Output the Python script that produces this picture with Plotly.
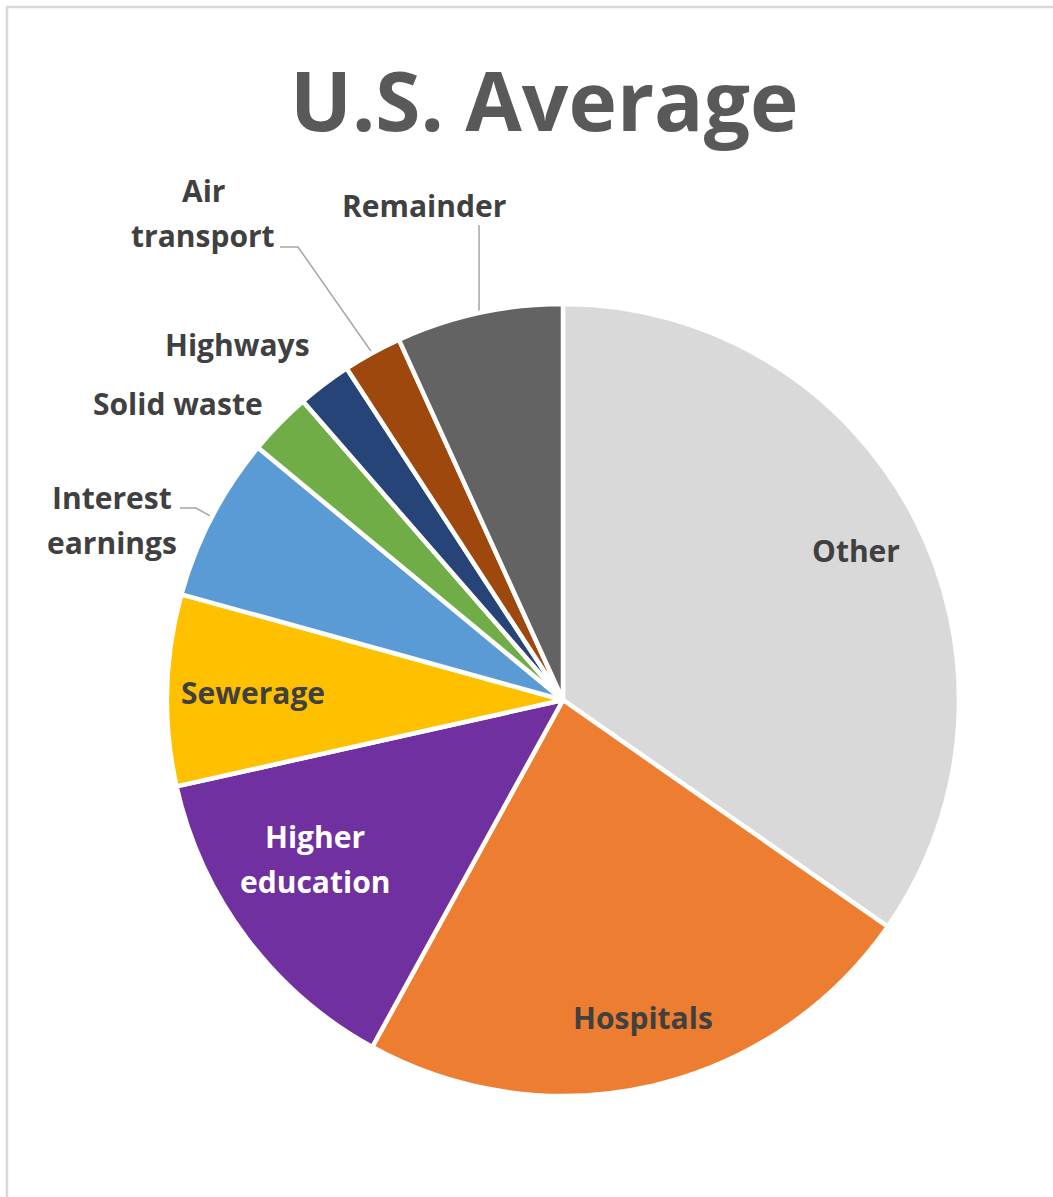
import math
import plotly.graph_objects as go

# Spending shares (percent of total), clockwise from 12 o'clock
categories = ["Other", "Hospitals", "Higher education", "Sewerage",
              "Interest earnings", "Solid waste", "Highways",
              "Air transport", "Remainder"]
shares = [34.7, 23.3, 13.5, 7.8, 6.7, 2.6, 2.2, 2.4, 6.8]
label_lines = [["Other"], ["Hospitals"], ["Higher", "education"], ["Sewerage"],
               ["Interest", "earnings"], ["Solid waste"], ["Highways"],
               ["Air", "transport"], ["Remainder"]]

colors = ["#D9D9D9", "#ED7D31", "#7030A0", "#FFC000", "#5B9BD5",
          "#70AD47", "#264478", "#9E480E", "#636363"]
text_colors = ["#404040", "#404040", "#FFFFFF", "#404040", "#404040",
               "#404040", "#404040", "#404040", "#404040"]

W, H = 1053, 1197
CX, CY, R = 563, 700, 396
FONT = "Open Sans"
LINE_GAP = 45

# Label centre (pixels) for each category's first line
label_pos = {
    "Other": (856, 550),
    "Hospitals": (643, 1017),
    "Higher education": (315, 836),
    "Sewerage": (253, 692),
    "Interest earnings": (112, 497),
    "Solid waste": (178, 403),
    "Highways": (237, 344),
    "Air transport": (203, 190),
    "Remainder": (424, 205),
}

# Leader-line starting points (pixels) for labels placed outside the pie
leader_start = {
    "Interest earnings": [(180, 508), (196, 508)],
    "Air transport": [(280, 247), (298, 247)],
    "Remainder": None,  # vertical drop from under the label
}

# Mid-angle of every slice, degrees clockwise from 12 o'clock
total = sum(shares)
mid_angle = {}
acc = 0.0
for name, v in zip(categories, shares):
    a0 = acc / total * 360
    acc += v
    a1 = acc / total * 360
    mid_angle[name] = (a0 + a1) / 2


def edge_point(name, extra=0):
    a = math.radians(mid_angle[name])
    return CX + (R + extra) * math.sin(a), CY - (R + extra) * math.cos(a)


fig = go.Figure()

fig.add_trace(go.Pie(
    labels=categories,
    values=shares,
    sort=False,
    direction="clockwise",
    rotation=0,
    marker=dict(colors=colors, line=dict(color="white", width=4.5)),
    textinfo="none",
    hoverinfo="label+percent",
    showlegend=False,
    domain=dict(x=[(CX - R) / W, (CX + R) / W],
                y=[1 - (CY + R) / H, 1 - (CY - R) / H]),
))

# Leader lines for outside labels
for name, start in leader_start.items():
    ex, ey = edge_point(name)
    if start is None:
        xs, ys = [ex, ex], [225, ey]
    else:
        xs = [p[0] for p in start] + [ex]
        ys = [p[1] for p in start] + [ey]
    fig.add_trace(go.Scatter(x=xs, y=ys, mode="lines",
                             line=dict(color="#A6A6A6", width=1.5),
                             hoverinfo="skip", showlegend=False))

annotations = []
for name, lines, tc in zip(categories, label_lines, text_colors):
    x0, y0 = label_pos[name]
    for i, line in enumerate(lines):
        annotations.append(dict(
            x=x0, y=y0 + i * LINE_GAP, xref="x", yref="y",
            text=line, showarrow=False, xanchor="center", yanchor="middle",
            font=dict(family=FONT, size=30, color=tc, weight="bold"),
        ))

annotations.append(dict(
    x=544, y=99, xref="x", yref="y", text="U.S. Average", showarrow=False,
    xanchor="center", yanchor="middle",
    font=dict(family=FONT, size=82, color="#595959", weight="bold"),
))

fig.update_layout(
    width=W, height=H,
    margin=dict(l=0, r=0, t=0, b=0),
    paper_bgcolor="white", plot_bgcolor="white",
    xaxis=dict(range=[0, W], visible=False, fixedrange=True),
    yaxis=dict(range=[H, 0], visible=False, fixedrange=True),
    annotations=annotations,
    shapes=[dict(type="rect", xref="x", yref="y", x0=7, y0=7, x1=W + 10, y1=H + 10,
                 line=dict(color="#D9D9D9", width=2.5), fillcolor="rgba(0,0,0,0)",
                 layer="below")],
)

fig.write_html("out.html")
